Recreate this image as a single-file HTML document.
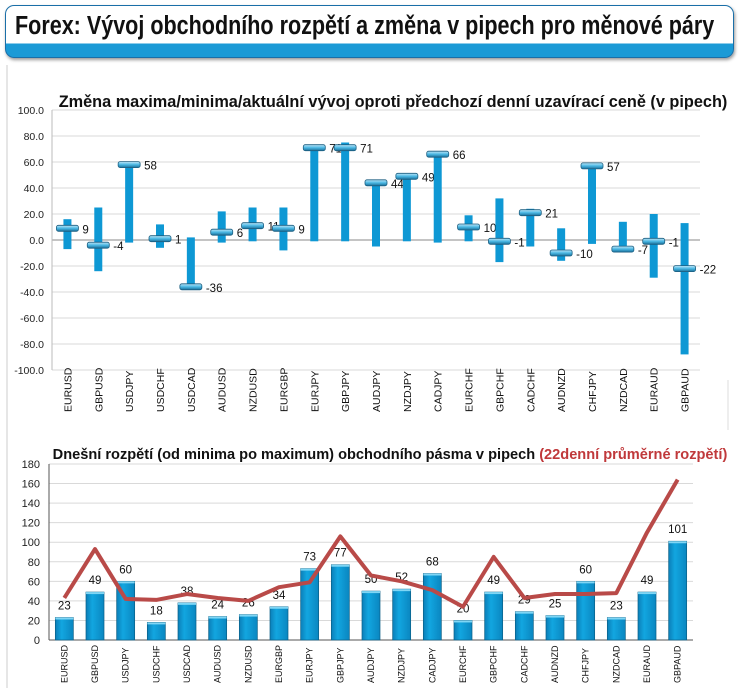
<!DOCTYPE html>
<html><head><meta charset="utf-8"><style>
body{margin:0;background:#fff;width:740px;height:688px;overflow:hidden;font-family:"Liberation Sans",sans-serif}
#hdr{position:absolute;left:5px;top:5px;width:727px;height:51px;border:1.5px solid #1a6fa8;border-radius:9px;background:linear-gradient(#fff 0,#fff 74%,#1b9ad6 74%);box-shadow:1px 2px 3px #999}
#hdr span{position:absolute;left:9px;top:6px;font-size:25.5px;font-weight:bold;color:#111;transform:scaleX(0.845);transform-origin:left;white-space:nowrap}
</style></head><body>
<div id="hdr"><span>Forex: Vývoj obchodního rozpětí a změna v pipech pro měnové páry</span></div>
<svg id="s" width="740" height="688" style="position:absolute;left:0;top:0">
<defs>
<linearGradient id="bg" x1="0" x2="1"><stop offset="0" stop-color="#0b7fb8"/><stop offset="0.35" stop-color="#12a6e0"/><stop offset="1" stop-color="#0a86c0"/></linearGradient>
<linearGradient id="cap" x1="0" y1="0" x2="0" y2="1"><stop offset="0" stop-color="#bfe6f7"/><stop offset="0.5" stop-color="#4bb8e4"/><stop offset="1" stop-color="#1a6f99"/></linearGradient>
</defs>
<line x1="7" y1="65" x2="7" y2="688" stroke="#ccc"/>
<line x1="728" y1="380" x2="728" y2="430" stroke="#ddd"/>
<text x="393" y="107" text-anchor="middle" font-size="16.3" font-weight="bold" fill="#111">Změna maxima/minima/aktuální vývoj oproti předchozí denní uzavírací ceně (v pipech)</text>
<text x="390" y="459" text-anchor="middle" font-size="14.6" font-weight="bold" fill="#111">Dnešní rozpětí (od minima po maximum) obchodního pásma v pipech <tspan fill="#c0393b">(22denní průměrné rozpětí)</tspan></text>
<g id="top"></g><g id="bot"></g>
</svg>
<script>
const cats=["EURUSD","GBPUSD","USDJPY","USDCHF","USDCAD","AUDUSD","NZDUSD","EURGBP","EURJPY","GBPJPY","AUDJPY","NZDJPY","CADJPY","EURCHF","GBPCHF","CADCHF","AUDNZD","CHFJPY","NZDCAD","EURAUD","GBPAUD"];
const highs=[16,25,58,12,2,22,25,25,71,75,44,49,66,19,32,24,9,57,14,20,13];
const lows=[-7,-24,-2,-6,-36,-2,-1,-8,-1,-1,-5,-1,-2,-1,-17,-5,-16,-3,-7,-29,-88];
const current=[9,-4,58,1,-36,6,11,9,71,71,44,49,66,10,-1,21,-10,57,-7,-1,-22];
const topTicks=[100,80,60,40,20,0,-20,-40,-60,-80,-100];
const ranges=[23,49,60,18,38,24,26,34,73,77,50,52,68,20,49,29,25,60,23,49,101];
const avg22=[43,93,42,41,47,43,40,54,59,106,66,60,51,34,85,43,47,47,48,110,164];
const botTicks=[0,20,40,60,80,100,120,140,160,180];
const NS="http://www.w3.org/2000/svg";
function mk(p,t,a,txt){const e=document.createElementNS(NS,t);for(const k in a)e.setAttribute(k,a[k]);if(txt!==undefined)e.textContent=txt;p.appendChild(e);return e;}
const T=document.getElementById('top');
const tx0=52,tw=648,tband=tw/cats.length;
const ty=v=>240-v*1.3;
const txc=i=>tx0+tband*(i+0.5);
topTicks.forEach(v=>{
 const l=mk(T,'line',{x1:tx0,x2:tx0+tw,y1:ty(v),y2:ty(v),stroke:v===0?'#888':'#d9d9d9'});
 
 
 const t=mk(T,'text',{x:44,y:ty(v)+4,'text-anchor':'end','font-size':'10.5',fill:'#222'},v.toFixed(1));
 
 
});
mk(T,'line',{x1:tx0,x2:tx0,y1:ty(100),y2:ty(-100),stroke:'#bbb'});
cats.forEach((c,i)=>{
 const x=txc(i);
 const b=mk(T,'rect',{x:x-4,y:ty(highs[i]),width:8,height:ty(lows[i])-ty(highs[i]),fill:'#0e98d4'});
 
 
 const cp=mk(T,'rect',{x:x-11,y:ty(current[i])-3,width:22,height:6,rx:2,fill:'url(#cap)',stroke:'#1c5e80','stroke-width':'0.8'});
 
 
 const lb=mk(T,'text',{x:x+15,y:ty(current[i])+5,'font-size':'11.5',fill:'#111'},String(current[i]));
 
 
 const cl=mk(T,'text',{transform:`translate(${x+4},412) rotate(-90)`,'font-size':'10.5',fill:'#111'},c);
 
 
});
const B=document.getElementById('bot');
const bx0=49,bw=644,bband=bw/cats.length;
const by=v=>640-v*176/180;
const bxc=i=>bx0+bband*(i+0.5);
botTicks.forEach(v=>{
 const l=mk(B,'line',{x1:bx0,x2:bx0+bw,y1:by(v),y2:by(v),stroke:v===0?'#555':'#d9d9d9'});
 
 
 const t=mk(B,'text',{x:40,y:by(v)+4,'text-anchor':'end','font-size':'11',fill:'#222'},String(v));
 
 
});
mk(B,'line',{x1:bx0,x2:bx0,y1:by(180),y2:by(0),stroke:'#555'});
cats.forEach((c,i)=>{
 const x=bxc(i);
 const b=mk(B,'rect',{x:x-9,y:by(ranges[i]),width:18,height:by(0)-by(ranges[i]),fill:'url(#bg)',stroke:'#0a5f86','stroke-width':'0.7'});
 
 
 mk(B,'rect',{x:x-9,y:by(ranges[i]),width:18,height:2,fill:'#7fd6f5'});
 const lb=mk(B,'text',{x:x,y:by(ranges[i])-8,'text-anchor':'middle','font-size':'11.5',fill:'#111'},String(ranges[i]));
 
 
 const cl=mk(B,'text',{transform:`translate(${x+3},683) rotate(-90)`,'font-size':'9',fill:'#111'},c);
 
 
});
const pl=mk(B,'polyline',{points:avg22.map((v,i)=>bxc(i)+','+by(v)).join(' '),fill:'none',stroke:'#b94a48','stroke-width':'4','stroke-linejoin':'round'});


</script>
</body></html>
